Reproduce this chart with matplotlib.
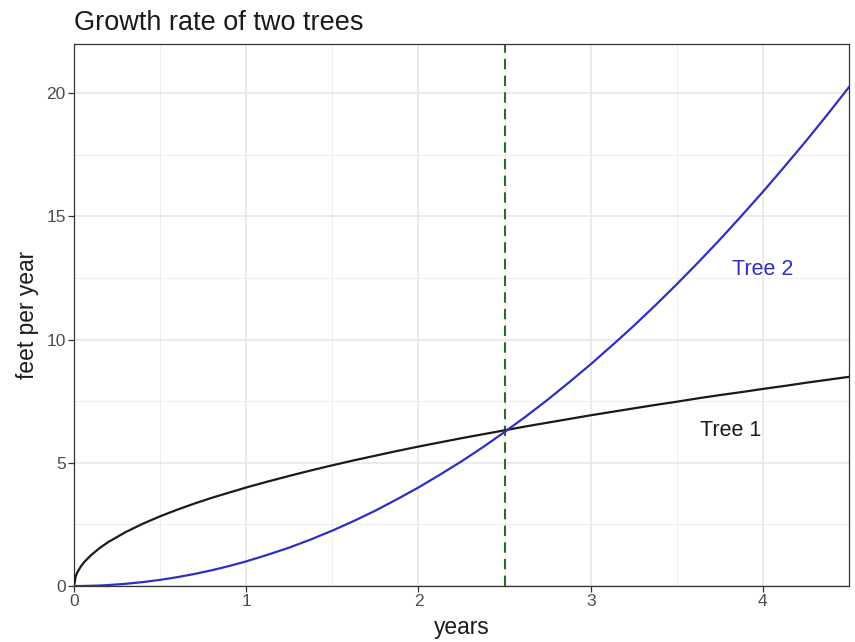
import matplotlib.pyplot as plt

plt.rcParams['font.family'] = ['Liberation Sans', 'DejaVu Sans']

# valores
years = [0, 0.01, 0.02, 0.04, 0.06, 0.1, 0.15, 0.2, 0.3, 0.4, 0.5, 0.6, 0.7, 0.8, 0.9, 1.0,
         1.125, 1.25, 1.375, 1.5, 1.625, 1.75, 1.875, 2.0, 2.125, 2.25, 2.375, 2.5,
         2.625, 2.75, 2.875, 3.0, 3.125, 3.25, 3.375, 3.5, 3.625, 3.75, 3.875, 4.0,
         4.125, 4.25, 4.375, 4.5]
tree1 = [0, 0.40, 0.57, 0.80, 0.98, 1.26, 1.55, 1.79, 2.19, 2.53, 2.83, 3.10, 3.35, 3.58, 3.79, 4.00,
         4.24, 4.47, 4.69, 4.90, 5.10, 5.29, 5.48, 5.66, 5.83, 6.00, 6.16, 6.32,
         6.48, 6.63, 6.78, 6.93, 7.07, 7.21, 7.35, 7.48, 7.62, 7.75, 7.87, 8.00,
         8.12, 8.25, 8.37, 8.49]
tree2 = [0, 0.0001, 0.0004, 0.0016, 0.0036, 0.01, 0.02, 0.04, 0.09, 0.16, 0.25, 0.36, 0.49, 0.64, 0.81, 1.00,
         1.27, 1.56, 1.89, 2.25, 2.64, 3.06, 3.52, 4.00, 4.52, 5.06, 5.64, 6.25,
         6.89, 7.56, 8.27, 9.00, 9.77, 10.56, 11.39, 12.25, 13.14, 14.06, 15.02, 16.00,
         17.02, 18.06, 19.14, 20.25]
cross_year = 2.5

fig = plt.figure(figsize=(8.55, 6.42), dpi=100)
ax = fig.add_axes([0.0866, 0.0872, 0.9064, 0.8443])

ax.set_xlim(0, 4.5)
ax.set_ylim(0, 22)
ax.set_xticks([0, 1, 2, 3, 4])
ax.set_yticks([0, 5, 10, 15, 20])
ax.set_xticks([0.5, 1.5, 2.5, 3.5], minor=True)
ax.set_yticks([2.5, 7.5, 12.5, 17.5], minor=True)
ax.grid(which='major', color='#e6e6e6', lw=1.1)
ax.grid(which='minor', color='#eeeeee', lw=0.7)
ax.set_axisbelow(True)
ax.tick_params(which='major', length=4, width=0.9, color='#333333',
               labelcolor='#4d4d4d', labelsize=12.5, pad=2)
ax.tick_params(which='minor', length=0)
for s in ax.spines.values():
    s.set_color('#333333')
    s.set_linewidth(0.9)

ax.plot(years, tree1, color='#1a1a1a', lw=1.6, zorder=3)
ax.plot(years, tree2, color='#2f2fc2', lw=1.6, zorder=3)
ax.axvline(cross_year, color='#2e6b2e', lw=1.5, ls=(0, (5, 3)), zorder=2)

ax.text(4.0, 12.85, 'Tree 2', color='#2f2fc2', fontsize=15.5, ha='center', va='center')
ax.text(3.81, 6.3, 'Tree 1', color='#1a1a1a', fontsize=15.5, ha='center', va='center')

ax.set_xlabel('years', fontsize=16.4, labelpad=5, color='#1a1a1a')
ax.set_ylabel('feet per year', fontsize=16.4, labelpad=5, color='#1a1a1a')
ax.set_title('Growth rate of two trees', fontsize=19.5, loc='left', pad=10, color='#1a1a1a')

fig.savefig('out.png', dpi=100)
